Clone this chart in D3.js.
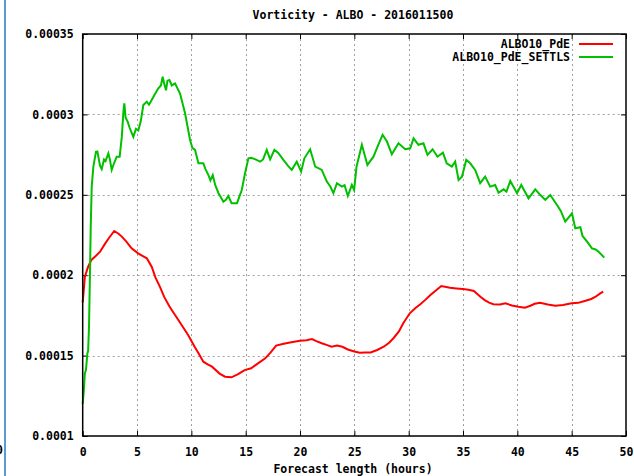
<!DOCTYPE html>
<html>
<head>
<meta charset="utf-8">
<script src="https://cdn.jsdelivr.net/npm/d3@7"></script>
<style>
  body { margin: 0; background: #fff; }
  svg text { font-family: "DejaVu Sans Mono", monospace; font-weight: bold; font-size: 11.5px; fill: #000; }
</style>
</head>
<body>
<div id="chart"></div>
<script>
const width = 634, height = 476;
const margin = {left: 82.7, right: 8, top: 34, bottom: 40};

// Axis ticks
const xTicks = [0, 5, 10, 15, 20, 25, 30, 35, 40, 45, 50];
const yTicks = [0.0001, 0.00015, 0.0002, 0.00025, 0.0003, 0.00035];
const yTickLabels = ['0.0001', '0.00015', '0.0002', '0.00025', '0.0003', '0.00035'];

// ALBO10_PdE (red)
const pdeHours = [0, 0.2, 0.5, 0.8, 1.2, 1.6, 2.0, 2.4, 2.9, 3.3, 3.6, 4.0, 4.5, 5.1, 5.5, 5.9, 6.35, 6.7, 7.1, 7.5,
  8.0, 8.5, 9.0, 9.7, 10.3, 10.7, 11.1, 11.5, 11.9, 12.6, 13.1, 13.7, 14.3, 14.9, 15.5, 16.1, 16.8, 17.3, 17.8, 18.5,
  19.2, 20.0, 20.6, 21.1, 21.5, 22.0, 22.5, 22.9, 23.4, 23.9, 24.4, 25.0, 25.5, 26.0, 26.5, 27.1, 27.7, 28.2, 28.6, 29.1,
  29.5, 30.1, 30.6, 31.1, 31.5, 32.0, 32.5, 33.0, 33.8, 34.4, 35.0, 35.5, 36.0, 36.6, 37.0, 37.4, 37.8, 38.4, 38.9, 39.5,
  40.1, 40.7, 41.2, 41.6, 42.1, 42.8, 43.5, 44.2, 45.0, 45.6, 46.2, 46.8, 47.2, 47.6, 47.9];
const pdeValues = [0.000183, 0.000199, 0.0002053, 0.0002095, 0.000212, 0.0002146, 0.000219, 0.000223, 0.0002275, 0.0002258,
  0.000224, 0.000221, 0.0002167, 0.0002136, 0.000212, 0.0002105, 0.0002053, 0.0001985, 0.0001929, 0.0001865,
  0.0001804, 0.0001752, 0.0001701, 0.0001628, 0.0001555, 0.000151, 0.0001462, 0.0001445, 0.0001431, 0.0001388,
  0.0001369, 0.0001365, 0.0001385, 0.000141, 0.0001421, 0.000145, 0.0001483, 0.000152, 0.0001562, 0.0001574,
  0.0001583, 0.0001593, 0.0001596, 0.0001603, 0.000159, 0.0001577, 0.0001565, 0.0001555, 0.0001562, 0.0001555,
  0.0001538, 0.0001526, 0.0001518, 0.0001519, 0.000152, 0.0001535, 0.0001555, 0.000158, 0.0001608, 0.000165,
  0.0001701, 0.0001763, 0.0001795, 0.0001821, 0.0001845, 0.0001877, 0.0001905, 0.0001933, 0.0001922, 0.0001918,
  0.0001914, 0.000191, 0.0001902, 0.0001866, 0.0001845, 0.0001829, 0.000182, 0.0001818, 0.0001825, 0.0001812,
  0.0001804, 0.0001798, 0.000181, 0.0001822, 0.0001829, 0.0001818, 0.000181, 0.0001815, 0.0001825, 0.0001828,
  0.000184, 0.0001852, 0.0001866, 0.0001885, 0.0001898];

// ALBO10_PdE_SETTLS (green)
const settlsHours = [0.0, 0.1, 0.2, 0.3, 0.43, 0.5, 0.58, 0.67, 0.74, 0.83, 0.98, 1.1, 1.22, 1.35, 1.6, 1.75, 1.96, 2.1,
  2.36, 2.5, 2.67, 2.85, 3.13, 3.4, 3.6, 3.75, 3.83, 3.95, 4.14, 4.3, 4.66, 4.9, 5.12, 5.35, 5.58, 5.9, 6.1, 6.35, 6.6,
  6.96, 7.2, 7.36, 7.5, 7.67, 7.8, 7.98, 8.2, 8.5, 8.96, 9.42, 9.88, 10.1, 10.34, 10.65, 11.1, 11.3, 11.57, 11.75, 11.97,
  12.2, 12.5, 12.95, 13.2, 13.4, 13.7, 14.2, 14.64, 14.94, 15.25, 15.5, 15.9, 16.33, 16.6, 16.94, 17.25, 17.64, 18.0,
  18.47, 18.9, 19.24, 19.7, 20.1, 20.4, 20.93, 21.4, 22.0, 22.47, 22.8, 23.07, 23.4, 23.85, 24.1, 24.4, 24.77, 24.98,
  25.2, 25.69, 26.2, 26.76, 27.2, 27.6, 28.0, 28.45, 29.06, 29.68, 30.14, 30.45, 30.9, 31.36, 31.73, 32.2, 32.65, 33.15,
  33.5, 33.97, 34.28, 34.59, 34.9, 35.3, 35.66, 36.12, 36.58, 37.04, 37.5, 37.96, 38.27, 38.73, 39.0, 39.35, 39.97,
  40.36, 41.03, 41.65, 42.1, 42.57, 43.03, 43.65, 44.0, 44.41, 45.03, 45.33, 45.8, 46.0, 46.4, 46.87, 47.2, 47.48, 48.0];
const settlsValues = [0.00012, 0.000128, 0.000139, 0.000141, 0.0001514, 0.000153, 0.000168, 0.0002012, 0.0002302, 0.0002551,
  0.0002675, 0.000272, 0.0002768, 0.000277, 0.000268, 0.000266, 0.000272, 0.000271, 0.0002758, 0.000272,
  0.0002655, 0.000269, 0.0002737, 0.0002737, 0.000286, 0.000302, 0.0003068, 0.000298, 0.0002955, 0.000292,
  0.000286, 0.000291, 0.00029, 0.000296, 0.0003058, 0.0003079, 0.000306, 0.000309, 0.000312, 0.0003162,
  0.000318, 0.0003235, 0.000319, 0.000315, 0.000321, 0.0003214, 0.000318, 0.0003193, 0.000313, 0.0003007,
  0.0002841, 0.000279, 0.0002779, 0.0002696, 0.0002696, 0.000266, 0.0002623, 0.000259, 0.0002623, 0.000256,
  0.000251, 0.0002457, 0.000247, 0.0002493, 0.0002448, 0.0002448, 0.000253, 0.0002634, 0.0002727, 0.000273,
  0.000272, 0.0002706, 0.000272, 0.0002779, 0.000272, 0.0002779, 0.000276, 0.0002717, 0.000268, 0.0002655,
  0.0002706, 0.0002644, 0.0002727, 0.0002783, 0.0002675, 0.0002655, 0.0002582, 0.000255, 0.000251, 0.0002572,
  0.0002551, 0.000256, 0.0002493, 0.0002561, 0.000253, 0.0002675, 0.0002811, 0.0002686, 0.0002737, 0.0002811,
  0.0002873, 0.0002831, 0.0002752, 0.000282, 0.0002783, 0.0002789, 0.0002851, 0.0002811, 0.000282, 0.0002748,
  0.0002783, 0.0002737, 0.0002762, 0.0002696, 0.0002675, 0.0002706, 0.0002592, 0.0002613, 0.0002717, 0.0002696,
  0.0002655, 0.0002572, 0.0002613, 0.0002551, 0.0002561, 0.0002513, 0.0002534, 0.000252, 0.0002586, 0.000251,
  0.0002561, 0.0002478, 0.0002534, 0.00025, 0.0002468, 0.0002499, 0.0002437, 0.00024, 0.0002333, 0.0002385,
  0.0002292, 0.0002298, 0.0002244, 0.000221, 0.0002167, 0.000216, 0.0002146, 0.0002109];

const series = [
  {name: 'ALBO10_PdE', color: '#ff0000', hours: pdeHours, values: pdeValues},
  {name: 'ALBO10_PdE_SETTLS', color: '#00c000', hours: settlsHours, values: settlsValues}
];

const svg = d3.select('#chart').append('svg')
  .attr('width', width)
  .attr('height', height);

// leftover edge of a neighbouring panel
svg.append('rect').attr('x', 4).attr('y', 0).attr('width', 2).attr('height', height).attr('fill', '#5b9bd5');
svg.append('text').attr('x', -4).attr('y', 454).text('0');

const x = d3.scaleLinear().domain([0, 50]).range([margin.left, width - margin.right]);
const y = d3.scaleLinear().domain([0.0001, 0.00035]).range([height - margin.bottom, margin.top]);
const x0 = x.range()[0], x1 = x.range()[1], y0 = y.range()[0], y1 = y.range()[1];

// Grid
const grid = svg.append('g').attr('stroke', '#a0a0a0').attr('stroke-dasharray', '2,3');
grid.selectAll('.vg').data(xTicks.slice(1, -1)).enter().append('line')
  .attr('x1', d => Math.round(x(d)) + 0.5).attr('x2', d => Math.round(x(d)) + 0.5)
  .attr('y1', y1).attr('y2', y0);
grid.selectAll('.hg').data(yTicks.slice(1, -1)).enter().append('line')
  .attr('y1', d => Math.round(y(d)) + 0.5).attr('y2', d => Math.round(y(d)) + 0.5)
  .attr('x1', x0).attr('x2', x1);

// Axes (ticks point inward, mirrored on top and right)
const xAxis = svg.append('g').attr('transform', `translate(0,${y0})`)
  .call(d3.axisBottom(x).tickValues(xTicks).tickSizeInner(-5).tickSizeOuter(0).tickPadding(12).tickFormat(d3.format('d')));
const xAxisTop = svg.append('g').attr('transform', `translate(0,${y1})`)
  .call(d3.axisTop(x).tickValues(xTicks).tickSizeInner(-5).tickSizeOuter(0).tickFormat(''));
const yAxis = svg.append('g').attr('transform', `translate(${x0},0)`)
  .call(d3.axisLeft(y).tickValues(yTicks).tickSizeInner(-5).tickSizeOuter(0).tickPadding(9)
    .tickFormat((d, i) => yTickLabels[i]));
const yAxisRight = svg.append('g').attr('transform', `translate(${x1},0)`)
  .call(d3.axisRight(y).tickValues(yTicks).tickSizeInner(-5).tickSizeOuter(0).tickFormat(''));

[xAxis, xAxisTop, yAxis, yAxisRight].forEach(a => {
  a.select('.domain').remove();
  a.selectAll('line').attr('stroke', '#000');
  a.selectAll('text').attr('font-family', null).attr('font-size', null).attr('fill', '#000');
});

// Data lines
const line = d3.line().x(d => x(d[0])).y(d => y(d[1]));
series.forEach(s => {
  svg.append('path')
    .datum(s.hours.map((h, i) => [h, s.values[i]]))
    .attr('fill', 'none')
    .attr('stroke', s.color)
    .attr('stroke-width', 2)
    .attr('stroke-linejoin', 'miter')
    .attr('d', line);
});

// Border
svg.append('rect')
  .attr('x', x0).attr('y', y1)
  .attr('width', x1 - x0).attr('height', y0 - y1)
  .attr('fill', 'none').attr('stroke', '#000').attr('stroke-width', 1.5);

// Legend
const legend = svg.append('g');
series.forEach((s, i) => {
  const ly = 44 + i * 13;
  legend.append('text').attr('x', 570).attr('y', ly).attr('dy', '0.35em')
    .attr('text-anchor', 'end').text(s.name);
  legend.append('line').attr('x1', 579).attr('x2', 613).attr('y1', ly).attr('y2', ly)
    .attr('stroke', s.color).attr('stroke-width', 2);
});

// Title and axis label
svg.append('text').attr('x', 353).attr('y', 15).attr('dy', '0.35em')
  .attr('text-anchor', 'middle').text('Vorticity - ALBO - 2016011500');
svg.append('text').attr('x', 353).attr('y', 469).attr('dy', '0.35em')
  .attr('text-anchor', 'middle').text('Forecast length (hours)');
</script>
</body>
</html>
